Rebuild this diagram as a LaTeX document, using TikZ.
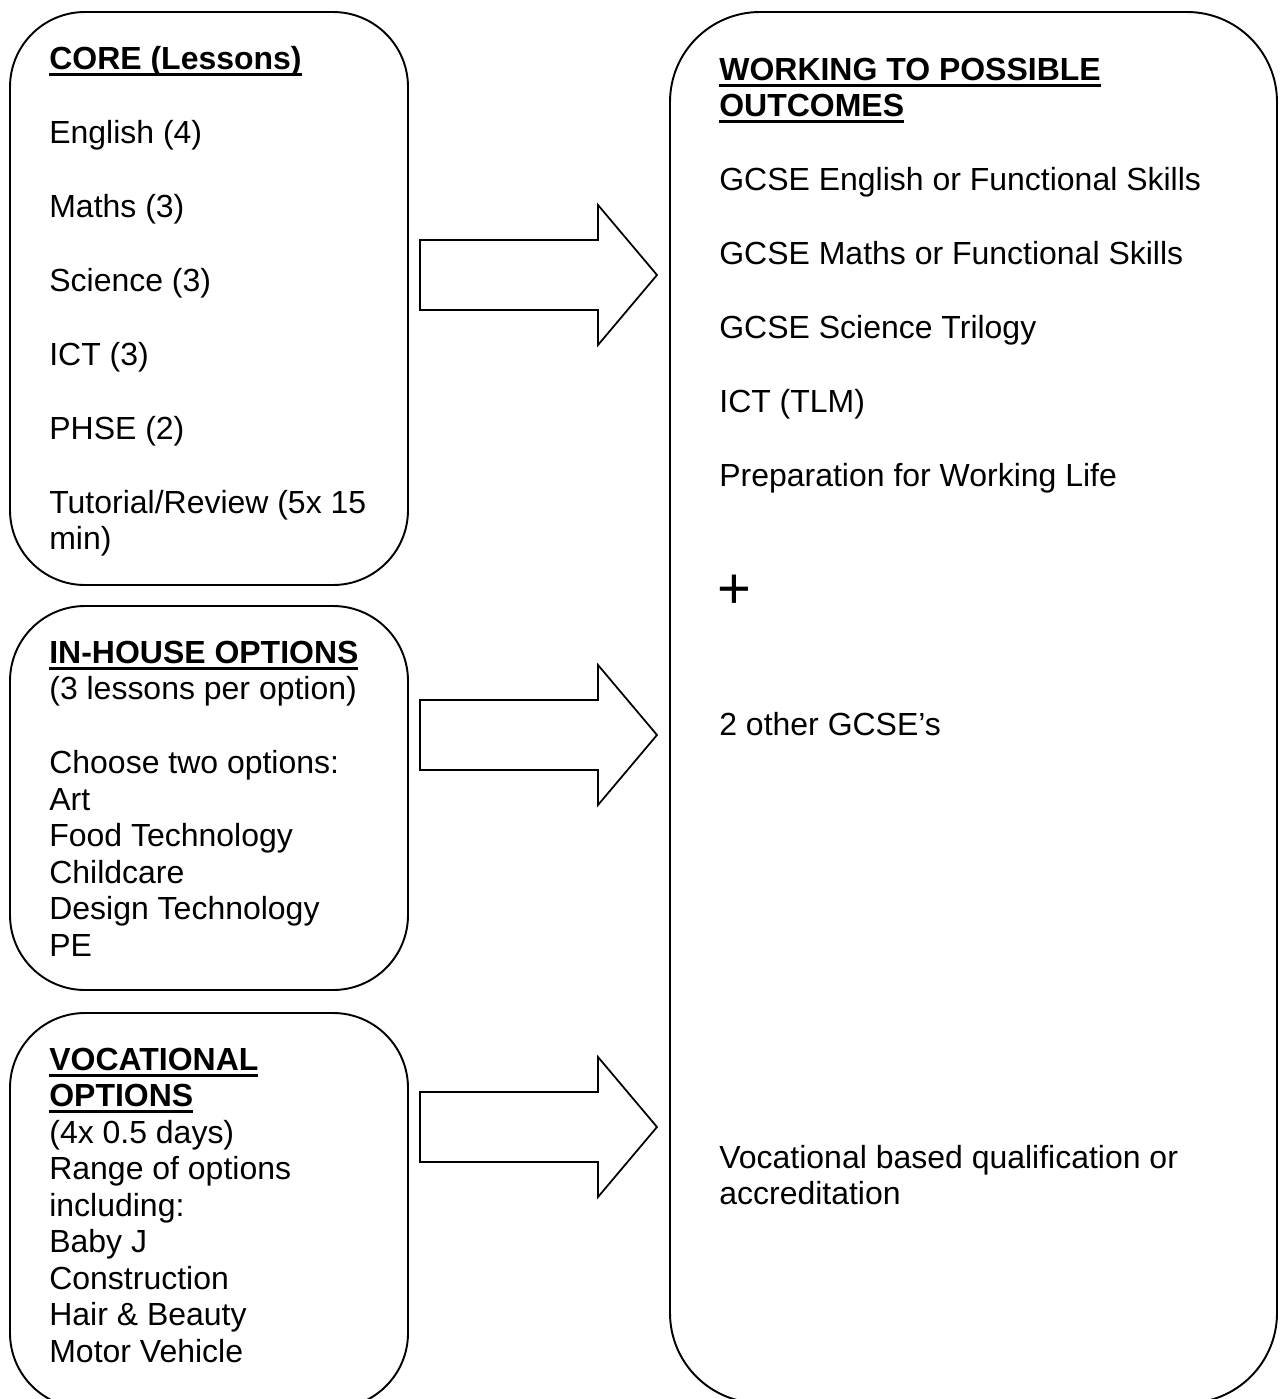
\documentclass[tikz,border=0pt]{standalone}
\usepackage{fontspec}
\setmainfont{Liberation Sans}
\usetikzlibrary{calc}
% first line strut and thick heading underline
\newcommand\firstln{\rule{0pt}{16pt}}
\newcommand\headul[1]{\setbox0\hbox{\textbf{#1}}\rlap{\rule[-3.7pt]{\wd0}{1.7pt}}\box0}
\tikzset{
  box/.style={draw,line width=1.1pt},
  blockarrow/.style={draw,line width=1pt,line join=miter},
  txt/.style={font=\fontsize{18.2pt}{20.77pt}\selectfont,align=left,inner sep=0pt,anchor=north west}
}

\begin{document}
\begin{tikzpicture}[x=0.02cm,y=-0.02cm]
\useasboundingbox (0,0) rectangle (1279,1399);
\clip (0,0) rectangle (1279,1399);
\draw[box,rounded corners=1.5cm] (10,12) rectangle (408,585);
\draw[box,rounded corners=1.5cm] (10,606) rectangle (408,990);
\draw[box,rounded corners=1.5cm] (10,1013) rectangle (408,1408);
\draw[box,rounded corners=1.8cm] (670,12) rectangle (1277,1403);
\foreach \y/\n in {275/a1,735/a2,1127/a3}{
  \coordinate (\n) at (420,\y);
  \draw[blockarrow] (\n) ++(0,-35) -- ++(178,0) -- ++(0,-35) -- ++(59,70) -- ++(-59,70) -- ++(0,-35) -- ++(-178,0) -- cycle;
}
\node[txt] (core) at (49,41) {\firstln\headul{CORE (Lessons)}\\[0.75cm]
English (4)\\[0.75cm]
Maths (3)\\[0.75cm]
Science (3)\\[0.75cm]
ICT (3)\\[0.75cm]
PHSE (2)\\[0.75cm]
Tutorial/Review (5x 15\\
min)};
\node[txt] (inhouse) at (49,635) {\firstln\headul{IN-HOUSE OPTIONS}\\
(3 lessons per option)\\[0.75cm]
Choose two options:\\
Art\\
Food Technology\\
Childcare\\
Design Technology\\
PE};
\node[txt] (vocational) at (49,1042) {\firstln\headul{VOCATIONAL}\\
\headul{OPTIONS}\\
(4x 0.5 days)\\
Range of options\\
including:\\
Baby J\\
Construction\\
Hair \& Beauty\\
Motor Vehicle};
\node[txt] (outcomes) at (719,52) {\firstln\headul{WORKING TO POSSIBLE}\\
\headul{OUTCOMES}\\[0.75cm]
GCSE English or Functional Skills\\[0.75cm]
GCSE Maths or Functional Skills\\[0.75cm]
GCSE Science Trilogy\\[0.75cm]
ICT (TLM)\\[0.75cm]
Preparation for Working Life};
\node[font=\fontsize{33pt}{36pt}\selectfont,inner sep=0pt] (plus) at (734,592) {+};
\node[txt,anchor=base west] (gcse) at (719,735) {2 other GCSE’s};
\node[txt] (vocqual) at (719,1140) {\firstln Vocational based qualification or\\
accreditation};
\end{tikzpicture}
\end{document}
